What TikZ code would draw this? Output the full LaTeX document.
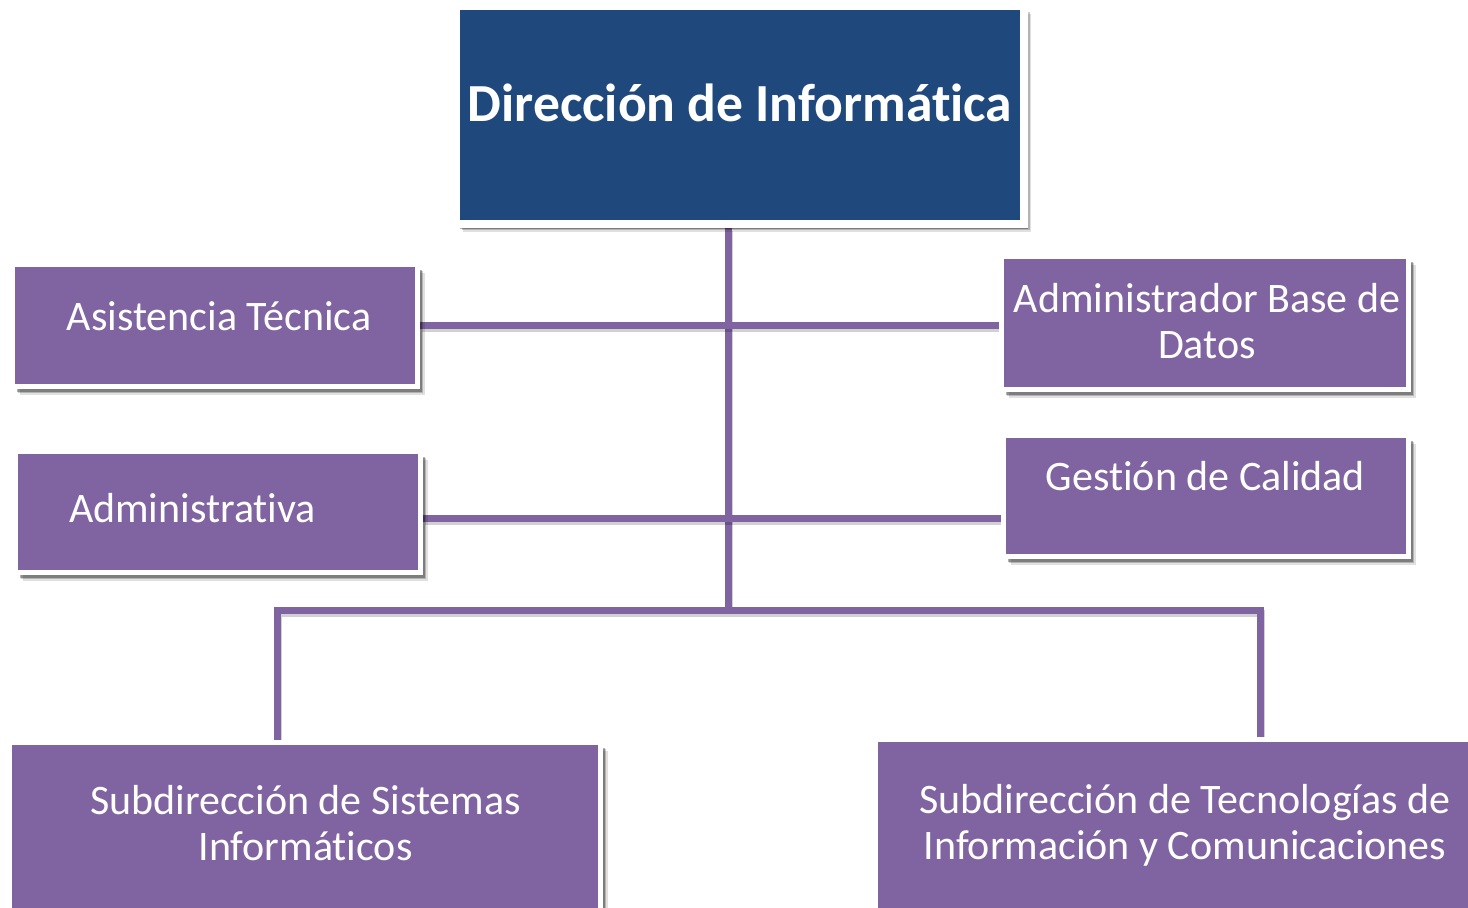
\documentclass[tikz,border=0pt]{standalone}
\usepackage{fontspec}
\setmainfont{Carlito}[Ligatures=NoCommon]
\usetikzlibrary{shadows,backgrounds}
\definecolor{navy}{RGB}{31,73,125}
\definecolor{plum}{RGB}{128,100,162}
\begin{document}
\begin{tikzpicture}[x=0.5pt,y=-0.5pt,
  box/.style={rectangle,draw=white,line width=2.5pt,inner sep=0pt,
    drop shadow={shadow xshift=3.6pt,shadow yshift=-4pt,opacity=0.12,fill=black},
    drop shadow={shadow xshift=2.8pt,shadow yshift=-3.2pt,opacity=0.2,fill=black},
    drop shadow={shadow xshift=2pt,shadow yshift=-2.5pt,opacity=0.3,fill=black}},
  pbox/.style={box,fill=plum},
  lbl/.style={text=white,font=\fontsize{21pt}{23pt}\selectfont,anchor=base,inner sep=0pt},
  conn/.style={draw=plum,line width=3.5pt,
    preaction={draw=black,opacity=0.18,line width=3.5pt,transform canvas={shift={(0.8pt,-1.5pt)}}}}]
\clip (0,0) rectangle (1468,907);
\useasboundingbox (0,0) rectangle (1468,907);
% boxes
\node[box,fill=navy,line width=4pt,minimum width=284pt,minimum height=109pt] (top) at (740,115) {};
\node[pbox,minimum width=202.5pt,minimum height=61pt] (at) at (215,325.5) {};
\node[pbox,minimum width=202.5pt,minimum height=60.5pt] (adm) at (218,512) {};
\node[pbox,minimum width=203.5pt,minimum height=66.5pt] (abd) at (1205,323) {};
\node[pbox,minimum width=202.5pt,minimum height=60.5pt] (gc) at (1206,496) {};
\node[pbox,minimum width=295.5pt,minimum height=103.75pt] (ssi) at (305,846.25) {};
\node[pbox,minimum width=302.25pt,minimum height=105.25pt] (stic) at (1177.75,844.75) {};
% connectors
\coordinate (hub) at (728,610);
\coordinate (r1) at (728,325);
\coordinate (r2) at (728,518);
\coordinate (lx) at (277,610);
\coordinate (rx) at (1260,610);
\begin{scope}[on background layer]
\draw[conn] (top.south -| hub) -- (hub);
\draw[conn] (at.east |- r1) -- (abd.west |- r1);
\draw[conn] (adm.east |- r2) -- (gc.west |- r2);
\draw[conn] (ssi.north -| lx) |- (hub) -| (stic.north -| rx);
\end{scope}
% labels
\node[lbl,font=\fontsize{26.8pt}{28pt}\selectfont\bfseries] (ttop) at (740,121) {Dirección de Informática};
\node[lbl] (tat) at (219,330) {Asistencia Técnica};
\node[lbl] (tadm) at (192.5,522.5) {Administrativa};
\node[lbl] (tabd1) at (1207,312) {Administrador Base de};
\node[lbl] (tabd2) at (1207,358) {Datos};
\node[lbl] (tgc) at (1205.5,490) {Gestión de Calidad};
\node[lbl] (tssi1) at (305.5,814) {Subdirección de Sistemas};
\node[lbl] (tssi2) at (305.5,860) {Informáticos};
\node[lbl] (tstic1) at (1185,813) {Subdirección de Tecnologías de};
\node[lbl] (tstic2) at (1185,859) {Información y Comunicaciones};
\end{tikzpicture}
\end{document}
